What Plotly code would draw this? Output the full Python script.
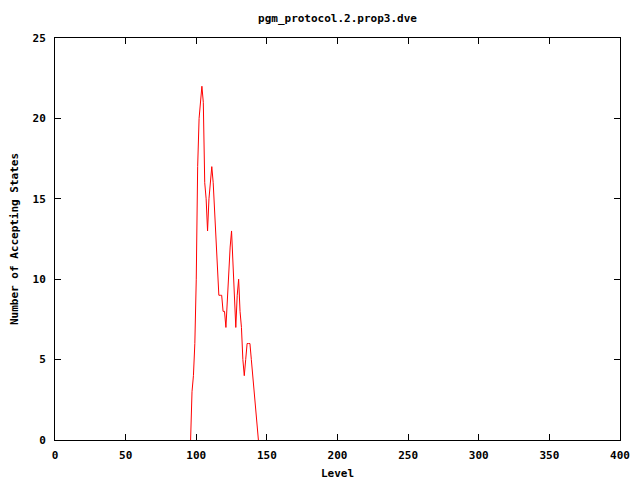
import plotly.graph_objects as go

levels = list(range(96, 145))
accepting = [0, 3, 4, 6, 10, 17, 20, 21, 22, 21,
             16, 15, 13, 15, 16, 17, 16, 14, 12, 10,
             9, 9, 9, 8, 8, 7, 9, 11, 12, 13,
             11, 9, 7, 9, 10, 8, 7, 5, 4, 5,
             6, 6, 6, 5, 4, 3, 2, 1, 0]

title_text = "pgm_protocol.2.prop3.dve"
x_title = "Level"
y_title = "Number of Accepting States"
x_ticks = [0, 50, 100, 150, 200, 250, 300, 350, 400]
y_ticks = [0, 5, 10, 15, 20, 25]

font = dict(family="DejaVu Sans Mono", size=11, color="black", weight="bold")

fig = go.Figure()
fig.add_trace(go.Scatter(x=levels, y=accepting, mode="lines",
                         line=dict(color="#ff0000", width=1), showlegend=False))

axis_common = dict(showline=True, linecolor="black", linewidth=1, mirror="allticks",
                   ticks="inside", ticklen=6, tickcolor="black", showgrid=False,
                   zeroline=False, tickfont=font, automargin=False)

# page body has an 8px default margin, so the figure is 8px smaller/offset
fig.update_layout(
    width=632, height=472,
    margin=dict(l=47, r=20, t=30, b=40),
    paper_bgcolor="white", plot_bgcolor="white",
    font=font,
    title=dict(text=title_text, x=0.5, xanchor="center", xref="paper",
               y=1 - 10 / 472, yref="container", yanchor="middle", automargin=False,
               font=font),
    xaxis=dict(range=[0, 400], tickvals=x_ticks, ticklabelstandoff=5,
               title=dict(text=x_title, font=font, standoff=16),
               **axis_common),
    yaxis=dict(range=[0, 25], tickvals=y_ticks, ticklabelstandoff=6,
               title=dict(text=y_title, font=font, standoff=14),
               **axis_common),
)

fig.write_html("out.html")
